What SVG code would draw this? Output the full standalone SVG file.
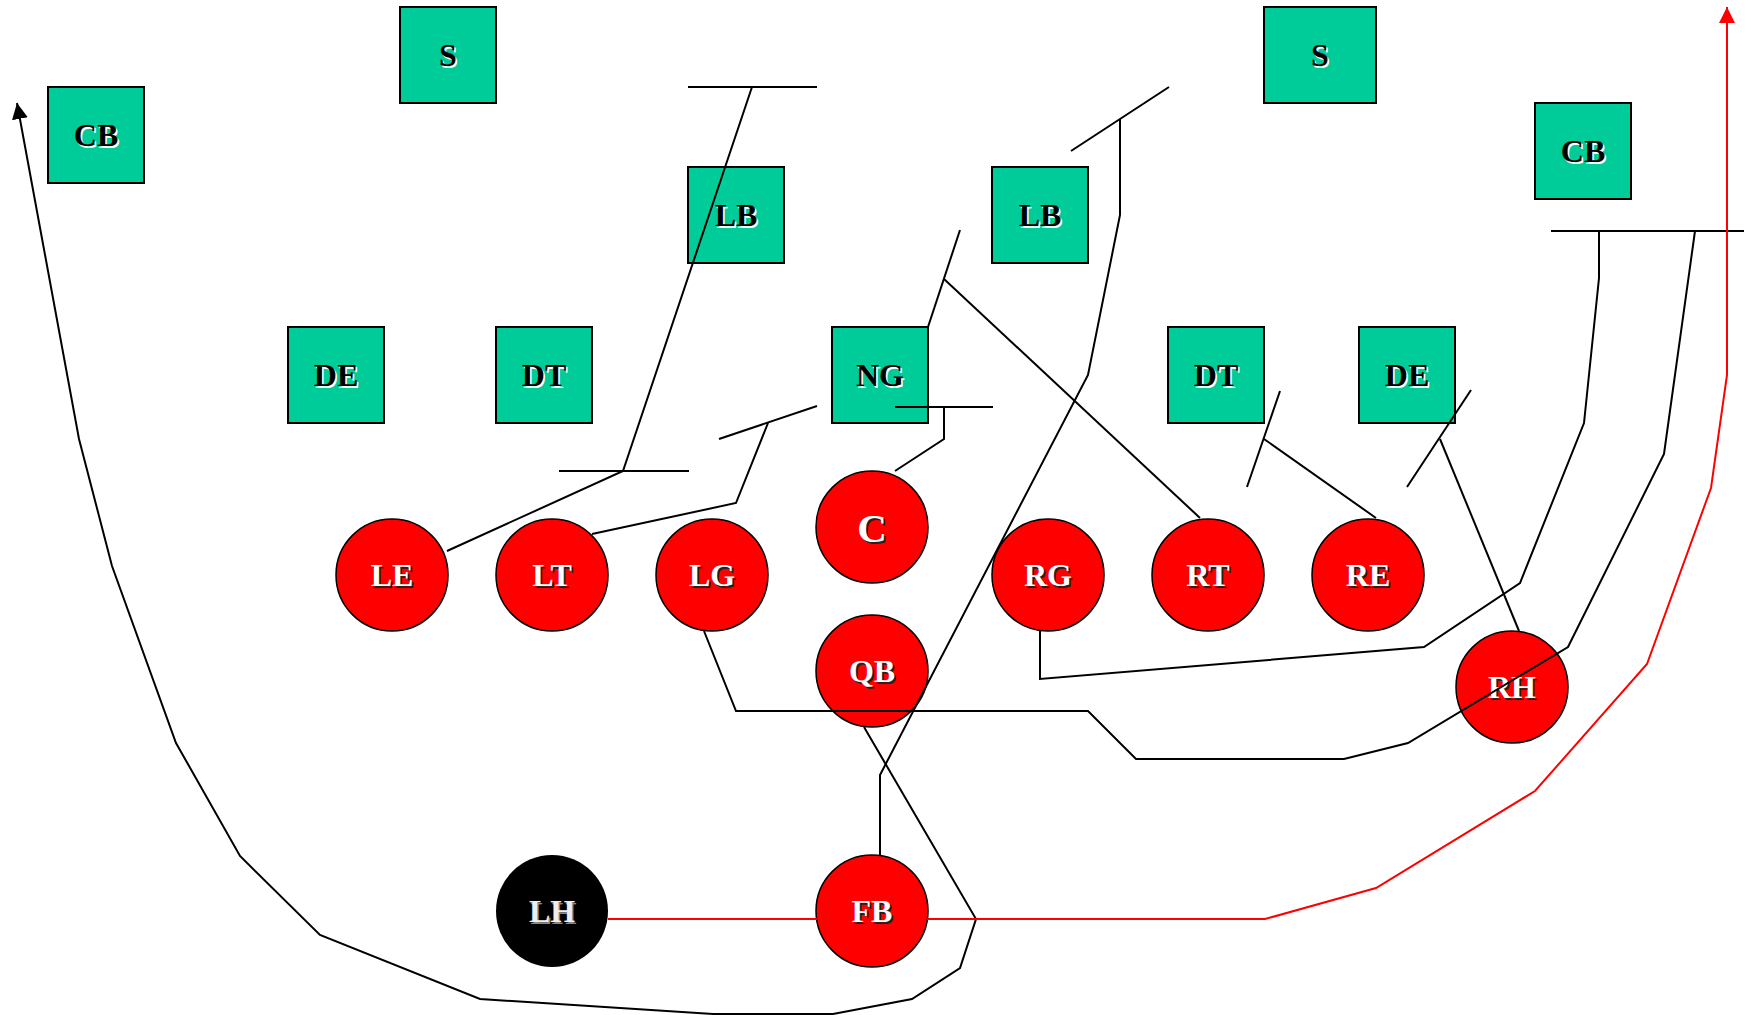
<svg xmlns="http://www.w3.org/2000/svg" width="1751" height="1015" viewBox="0 0 1751 1015">
<style>
.box{fill:#00CC99;stroke:#000;stroke-width:2}
.def text{font-family:"Liberation Serif","Times New Roman",serif;font-weight:bold;font-size:32px;text-anchor:middle}
.off text{font-family:"Liberation Serif","Times New Roman",serif;font-weight:bold;font-size:32px;text-anchor:middle}
.bl{fill:#000}
.bs{fill:#fff}
.pl{fill:#FF0000;stroke:#000;stroke-width:1.5}
.wl{fill:#fff}
.ws{fill:#222}
.ln{fill:none;stroke:#000;stroke-width:2;stroke-linejoin:miter}
.rd{fill:none;stroke:#FF0000;stroke-width:2}
</style>
<defs>
<marker id="ab" markerUnits="userSpaceOnUse" markerWidth="16" markerHeight="16" viewBox="0 0 16 16" refX="16" refY="8" orient="auto"><path d="M0,0 L16,8 L0,16 Z" fill="#000"/></marker>
<marker id="ar" markerUnits="userSpaceOnUse" markerWidth="16" markerHeight="16" viewBox="0 0 16 16" refX="16" refY="8" orient="auto"><path d="M0,0 L16,8 L0,16 Z" fill="#FF0000"/></marker>
</defs>
<rect width="1751" height="1015" fill="#fff"/>

<g id="nodes">
<g id="cb-left" class="def"><rect class="box" x="48" y="87" width="96" height="96"/><text class="bs" x="97.5" y="147.5">CB</text><text class="bl" x="96" y="146">CB</text></g>
<g id="s-left" class="def"><rect class="box" x="400" y="7" width="96" height="96"/><text class="bs" x="449.5" y="67.5">S</text><text class="bl" x="448" y="66">S</text></g>
<g id="s-right" class="def"><rect class="box" x="1264" y="7" width="112" height="96"/><text class="bs" x="1321.5" y="67.5">S</text><text class="bl" x="1320" y="66">S</text></g>
<g id="cb-right" class="def"><rect class="box" x="1535" y="103" width="96" height="96"/><text class="bs" x="1584.5" y="163.5">CB</text><text class="bl" x="1583" y="162">CB</text></g>
<g id="lb-left" class="def"><rect class="box" x="688" y="167" width="96" height="96"/><text class="bs" x="737.5" y="227.5">LB</text><text class="bl" x="736" y="226">LB</text></g>
<g id="lb-right" class="def"><rect class="box" x="992" y="167" width="96" height="96"/><text class="bs" x="1041.5" y="227.5">LB</text><text class="bl" x="1040" y="226">LB</text></g>
<g id="de-left" class="def"><rect class="box" x="288" y="327" width="96" height="96"/><text class="bs" x="337.5" y="387.5">DE</text><text class="bl" x="336" y="386">DE</text></g>
<g id="dt-left" class="def"><rect class="box" x="496" y="327" width="96" height="96"/><text class="bs" x="545.5" y="387.5">DT</text><text class="bl" x="544" y="386">DT</text></g>
<g id="ng" class="def"><rect class="box" x="832" y="327" width="96" height="96"/><text class="bs" x="881.5" y="387.5">NG</text><text class="bl" x="880" y="386">NG</text></g>
<g id="dt-right" class="def"><rect class="box" x="1168" y="327" width="96" height="96"/><text class="bs" x="1217.5" y="387.5">DT</text><text class="bl" x="1216" y="386">DT</text></g>
<g id="de-right" class="def"><rect class="box" x="1359" y="327" width="96" height="96"/><text class="bs" x="1408.5" y="387.5">DE</text><text class="bl" x="1407" y="386">DE</text></g>

<g id="le" class="off"><circle class="pl" cx="392" cy="575" r="56"/><text class="ws" x="393.5" y="587.5">LE</text><text class="wl" x="392" y="586">LE</text></g>
<g id="lt" class="off"><circle class="pl" cx="552" cy="575" r="56"/><text class="ws" x="553.5" y="587.5">LT</text><text class="wl" x="552" y="586">LT</text></g>
<g id="lg" class="off"><circle class="pl" cx="712" cy="575" r="56"/><text class="ws" x="713.5" y="587.5">LG</text><text class="wl" x="712" y="586">LG</text></g>
<g id="c" class="off"><circle class="pl" cx="872" cy="527" r="56"/><text class="ws" x="873.5" y="543.5" style="font-size:41px">C</text><text class="wl" x="872" y="542" style="font-size:41px">C</text></g>
<g id="rg" class="off"><circle class="pl" cx="1048" cy="575" r="56"/><text class="ws" x="1049.5" y="587.5">RG</text><text class="wl" x="1048" y="586">RG</text></g>
<g id="rt" class="off"><circle class="pl" cx="1208" cy="575" r="56"/><text class="ws" x="1209.5" y="587.5">RT</text><text class="wl" x="1208" y="586">RT</text></g>
<g id="re" class="off"><circle class="pl" cx="1368" cy="575" r="56"/><text class="ws" x="1369.5" y="587.5">RE</text><text class="wl" x="1368" y="586">RE</text></g>
<g id="qb" class="off"><circle class="pl" cx="872" cy="671" r="56"/><text class="ws" x="873.5" y="683.5">QB</text><text class="wl" x="872" y="682">QB</text></g>
<g id="rh" class="off"><circle class="pl" cx="1512" cy="687" r="56"/><text class="ws" x="1513.5" y="699.5">RH</text><text class="wl" x="1512" y="698">RH</text></g>
<g id="fb" class="off"><circle class="pl" cx="872" cy="911" r="56"/><text class="ws" x="873.5" y="923.5">FB</text><text class="wl" x="872" y="922">FB</text></g>
<g id="lh" class="off"><circle cx="552" cy="911" r="56" fill="#000"/><text fill="#888" x="553.5" y="923.5">LH</text><text fill="#eee" x="552" y="922">LH</text></g>
</g>

<g id="connectors">
<polyline class="ln" points="447,551 623,471 752,87"/>
<line class="ln" x1="559" y1="471" x2="689" y2="471"/>
<line class="ln" x1="688" y1="87" x2="817" y2="87"/>
<polyline class="ln" points="592,534 736,503 768,423"/>
<line class="ln" x1="719" y1="439" x2="817" y2="406"/>
<polyline class="ln" points="895,471 944,439 944,407"/>
<line class="ln" x1="895" y1="407" x2="993" y2="407"/>
<polyline class="ln" points="1200,518 944,279"/>
<line class="ln" x1="928" y1="327" x2="960" y2="230"/>
<polyline class="ln" points="1376,518 1264,439"/>
<line class="ln" x1="1247" y1="487" x2="1280" y2="391"/>
<polyline class="ln" points="1519,631 1440,439"/>
<line class="ln" x1="1407" y1="487" x2="1471" y2="390"/>
<polyline class="ln" points="880,855 880,775 1088,375 1120,215 1120,119"/>
<line class="ln" x1="1071" y1="151" x2="1169" y2="87"/>
<polyline class="ln" points="1040,631 1040,679 1424,647 1520,583 1584,423 1599,278 1599,231"/>
<polyline class="ln" points="704,631 736,711 1088,711 1136,759 1344,759 1408,743 1568,647 1664,454 1695,231"/>
<line class="ln" x1="1551" y1="231" x2="1744" y2="231"/>
<polyline class="ln" marker-end="url(#ab)" points="864,727 976,919 960,968 912,999 833,1014 713,1014 480,999 320,935 240,856 176,743 112,566 79,439 17,103"/>
<line class="rd" x1="608" y1="919" x2="817" y2="919"/>
<polyline class="rd" marker-end="url(#ar)" points="927,919 1265,919 1376,888 1535,791 1647,664 1711,488 1727,375 1727,7"/>
</g>
</svg>
